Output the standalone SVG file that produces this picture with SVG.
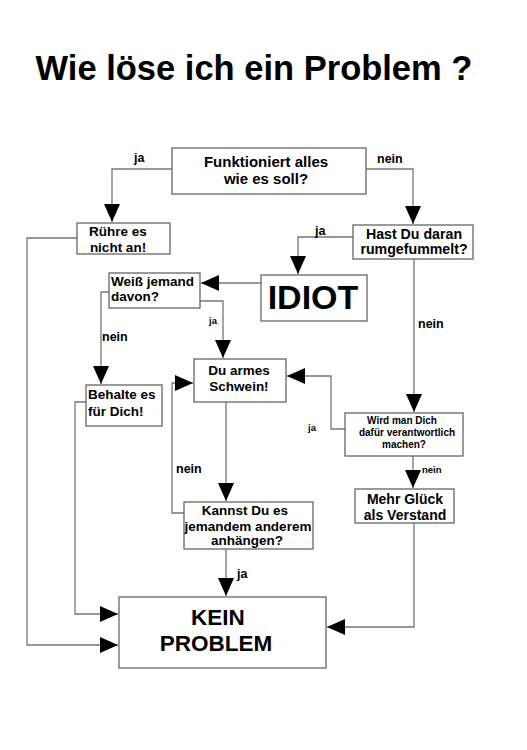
<svg xmlns="http://www.w3.org/2000/svg" width="527" height="750" viewBox="0 0 527 750">
<style>
.box{fill:#fff;stroke:#666;stroke-width:1.3}
.con{fill:none;stroke:#777;stroke-width:1.3}
text{font-family:"Liberation Sans",Arial,sans-serif;font-weight:bold;fill:#000}
.c{text-anchor:middle}
.t{font-size:13.5px}
.l{font-size:12.5px}
.s{font-size:9.5px}
</style>
<defs>
<marker id="ah" viewBox="0 0 18 16" refX="18" refY="8" markerWidth="18" markerHeight="16" markerUnits="userSpaceOnUse" orient="auto">
<path d="M0,0 L18,8 L0,16 Z" fill="#000"/>
</marker>
</defs>
<rect width="527" height="750" fill="#fff"/>
<text x="254" y="80" class="c" style="font-size:34.5px">Wie löse ich ein Problem ?</text>

<g id="connectors">
<path class="con" marker-end="url(#ah)" d="M172,169 H112 V222"/>
<path class="con" marker-end="url(#ah)" d="M366,169 H413 V224"/>
<path class="con" marker-end="url(#ah)" d="M353,237 H298 V274"/>
<path class="con" marker-end="url(#ah)" d="M261,283 H201"/>
<path class="con" marker-end="url(#ah)" d="M200,301 H223 V358"/>
<path class="con" marker-end="url(#ah)" d="M109,292 H101 V384"/>
<path class="con" marker-end="url(#ah)" d="M414,259 V412"/>
<path class="con" marker-end="url(#ah)" d="M345,429 H331 V376 H287"/>
<path class="con" marker-end="url(#ah)" d="M413,456 V488"/>
<path class="con" marker-end="url(#ah)" d="M414,523 V627 H327"/>
<path class="con" marker-end="url(#ah)" d="M226,402 V501"/>
<path class="con" marker-end="url(#ah)" d="M184,513 H172 V383 H193"/>
<path class="con" marker-end="url(#ah)" d="M226,549 V596"/>
<path class="con" marker-end="url(#ah)" d="M86,402 H75 V614 H118"/>
<path class="con" marker-end="url(#ah)" d="M77,238 H27 V645 H118"/>
<text x="134" y="162" class="l">ja</text>
<text x="377" y="163" class="l">nein</text>
<text x="315" y="235" class="l">ja</text>
<text x="209" y="324" class="s">ja</text>
<text x="102" y="341" class="l">nein</text>
<text x="418" y="328" class="l">nein</text>
<text x="308" y="431" class="s">ja</text>
<text x="422" y="473" class="s">nein</text>
<text x="176" y="473" class="l">nein</text>
<text x="237" y="578" class="l">ja</text>
</g>

<g id="n-funktioniert">
<rect class="box" x="172" y="148" width="194" height="46"/>
<text x="266" y="167" class="c" style="font-size:15px">Funktioniert alles</text>
<text x="266" y="184" class="c" style="font-size:15px">wie es soll?</text>
</g>
<g id="n-ruehre">
<rect class="box" x="77" y="223" width="93" height="31"/>
<text x="118" y="236" class="c t">Rühre es</text>
<text x="118" y="252" class="c t">nicht an!</text>
</g>
<g id="n-hast">
<rect class="box" x="353" y="225" width="120" height="34"/>
<text x="414" y="239" class="c" style="font-size:14.2px">Hast Du daran</text>
<text x="414" y="254" class="c" style="font-size:14.2px">rumgefummelt?</text>
</g>
<g id="n-idiot">
<rect class="box" x="261" y="275" width="106" height="46"/>
<text x="313" y="309" class="c" style="font-size:34px">IDIOT</text>
</g>
<g id="n-weiss">
<rect class="box" x="109" y="273" width="91" height="35"/>
<text x="111" y="286" class="t">Weiß jemand</text>
<text x="111" y="301" class="t">davon?</text>
</g>
<g id="n-duarmes">
<rect class="box" x="194" y="359" width="92" height="43"/>
<text x="239" y="375" class="c t">Du armes</text>
<text x="239" y="391" class="c t">Schwein!</text>
</g>
<g id="n-behalte">
<rect class="box" x="86" y="385" width="76" height="41"/>
<text x="88" y="399" class="t">Behalte es</text>
<text x="88" y="416" class="t">für Dich!</text>
</g>
<g id="n-wird">
<rect class="box" x="345" y="413" width="118" height="43"/>
<text x="402" y="424" class="c" style="font-size:10px">Wird man Dich</text>
<text x="407" y="436" class="c" style="font-size:10px">dafür verantwortlich</text>
<text x="404" y="448" class="c" style="font-size:10px">machen?</text>
</g>
<g id="n-mehr">
<rect class="box" x="355" y="489" width="99" height="34"/>
<text x="405" y="504" class="c" style="font-size:14px">Mehr Glück</text>
<text x="405" y="520" class="c" style="font-size:14px">als Verstand</text>
</g>
<g id="n-kannst">
<rect class="box" x="184" y="502" width="129" height="47"/>
<text x="245" y="515" class="c t">Kannst Du es</text>
<text x="248" y="531" class="c t">jemandem anderem</text>
<text x="247" y="545" class="c t">anhängen?</text>
</g>
<g id="n-kein">
<rect class="box" x="119" y="597" width="207" height="71"/>
<text x="218" y="625" class="c" style="font-size:22.5px">KEIN</text>
<text x="216" y="651" class="c" style="font-size:22.5px">PROBLEM</text>
</g>
</svg>
